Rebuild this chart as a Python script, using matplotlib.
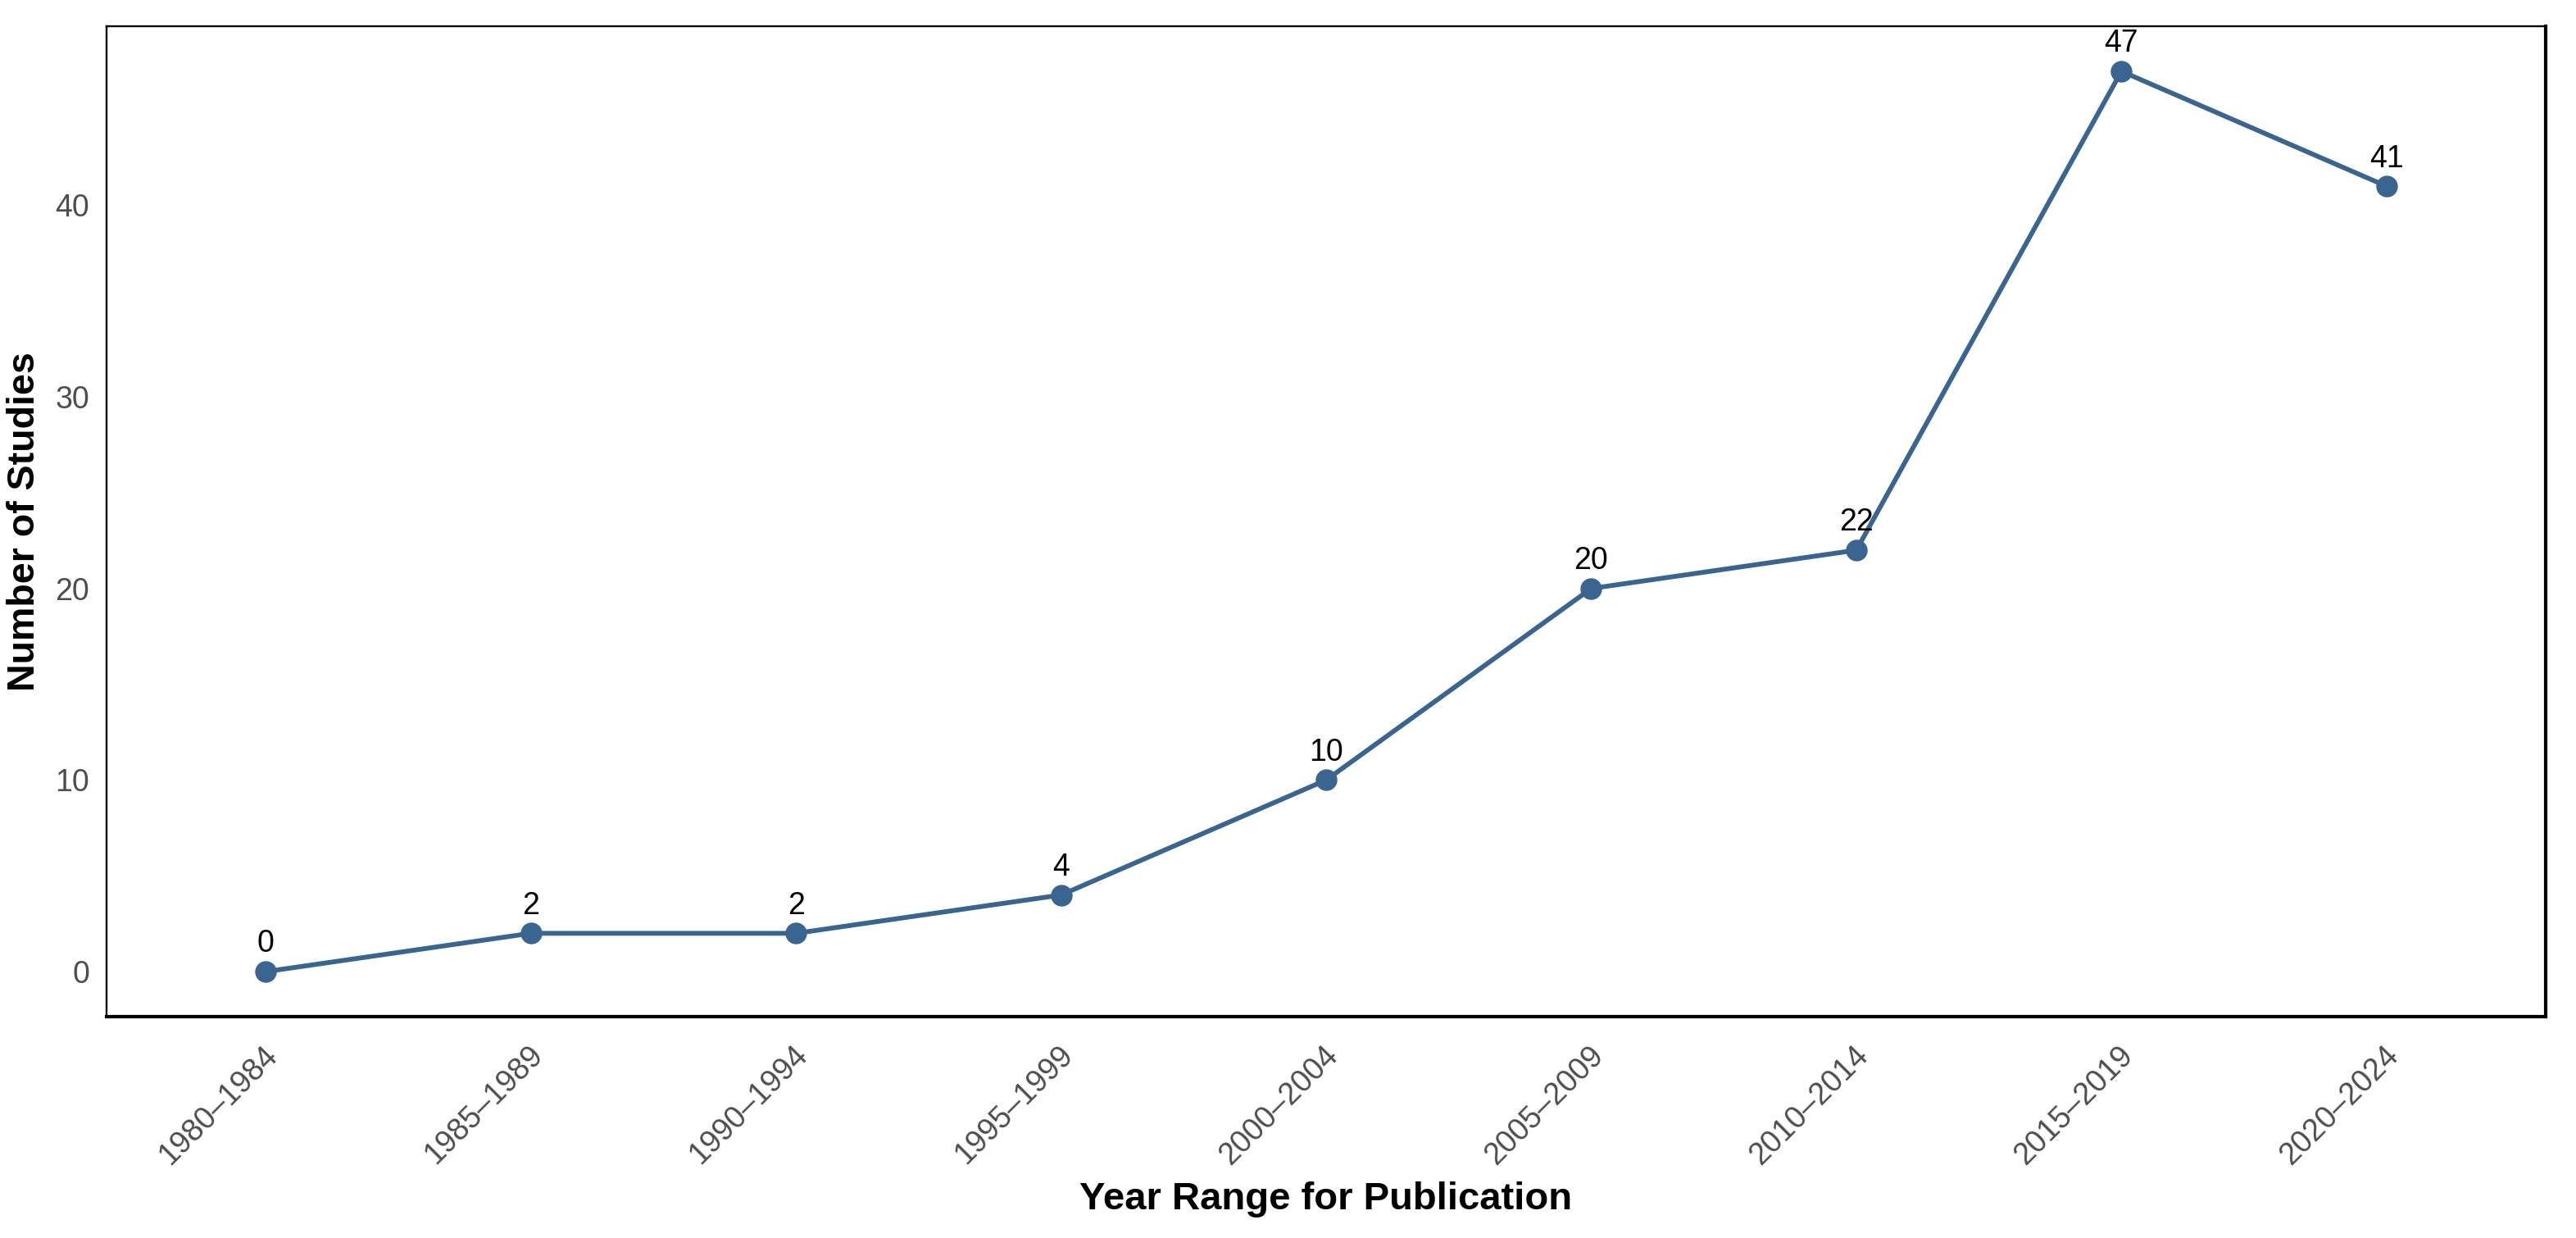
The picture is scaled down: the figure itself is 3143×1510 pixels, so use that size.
import numpy as np
import matplotlib
matplotlib.use("Agg")
import matplotlib.pyplot as plt
import matplotlib.transforms as mtransforms

plt.rcParams['font.family'] = ['Liberation Sans', 'DejaVu Sans']

# data
year_ranges = ['1980–1984', '1985–1989', '1990–1994', '1995–1999', '2000–2004',
               '2005–2009', '2010–2014', '2015–2019', '2020–2024']
n_studies = [0, 2, 2, 4, 10, 20, 22, 47, 41]

line_col = '#3A6590'
tick_col = '#4D4D4D'

fig = plt.figure(figsize=(31.43, 15.10), dpi=100)
ax = fig.add_axes([0.0414, 0.1788, 0.9468, 0.80])

x = np.arange(len(year_ranges))
ax.plot(x, n_studies, color=line_col, linewidth=4.2, marker='o', markersize=18,
        solid_capstyle='round', zorder=3)

for xi, v in zip(x, n_studies):
    ax.annotate(str(v), (xi, v), xytext=(0, 17), textcoords='offset points',
                ha='center', va='baseline', fontsize=27, color='black')

ax.set_xlim(-0.6, len(year_ranges) - 1 + 0.6)
ymax = max(n_studies)
ax.set_ylim(-0.05 * ymax, ymax * 1.05)

ax.set_xticks(x)
ax.set_xticklabels(year_ranges, rotation=45, ha='right', va='center',
                   rotation_mode='anchor')
ax.set_yticks([0, 10, 20, 30, 40])
ax.tick_params(axis='both', length=0, labelsize=27, labelcolor=tick_col)
ax.tick_params(axis='x', pad=30)
ax.tick_params(axis='y', pad=15)

# nudge x labels a little right, like the original
shift = mtransforms.ScaledTranslation(9 / 100, 0, fig.dpi_scale_trans)
for lab in ax.get_xticklabels():
    lab.set_transform(lab.get_transform() + shift)

ax.set_xlabel('Year Range for Publication', fontsize=34, fontweight='bold')
ax.set_ylabel('Number of Studies', fontsize=33.5, fontweight='bold')
ax.xaxis.set_label_coords(0.5, -0.185)
ax.xaxis.label.set_va('center')
ax.yaxis.set_label_coords(-0.0336, 0.5)
ax.yaxis.label.set_va('center')

for side in ['left', 'top']:
    ax.spines[side].set_linewidth(1.7)
for side in ['right', 'bottom']:
    ax.spines[side].set_linewidth(3.0)
for s in ax.spines.values():
    s.set_color('black')

fig.savefig('out.png', dpi=100)
